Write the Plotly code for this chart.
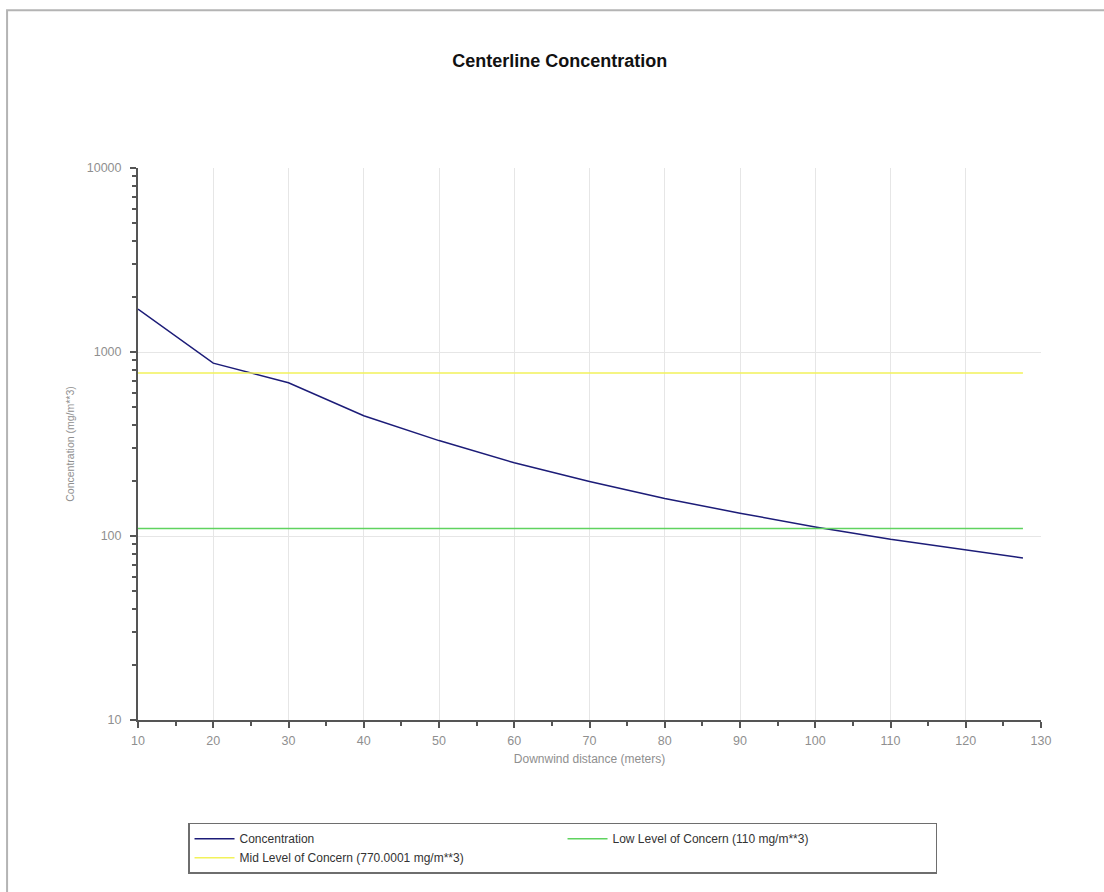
import plotly.graph_objects as go

# downwind distance (m) and centerline concentration (mg/m**3)
distance = [10, 20, 30, 40, 50, 60, 70, 80, 90, 100, 110, 120, 127.6]
concentration = [1710, 870, 680, 450, 330, 250, 198, 160, 133, 112, 96, 84, 76]

low_level = 110
mid_level = 770.0001

trace_conc = go.Scatter(
    x=distance,
    y=concentration,
    mode='lines',
    name='Concentration',
    line=dict(color='#1c1c78', width=1.5),
)
trace_low = go.Scatter(
    x=distance,
    y=[low_level] * len(distance),
    mode='lines',
    name='Low Level of Concern (110 mg/m**3)',
    line=dict(color='#5fd35f', width=1.5),
)
trace_mid = go.Scatter(
    x=distance,
    y=[mid_level] * len(distance),
    mode='lines',
    name='Mid Level of Concern (770.0001 mg/m**3)',
    line=dict(color='#f2f25a', width=1.5),
)

tick_font = dict(family='Liberation Sans, Arial', size=12.5, color='#8f8f8f')

layout = go.Layout(
    width=1104,
    height=892,
    paper_bgcolor='white',
    plot_bgcolor='white',
    margin=dict(l=138, r=63, t=168, b=172),
    title=dict(
        text='<b>Centerline Concentration</b>',
        x=0.507,
        xanchor='center',
        y=0.932,
        yanchor='middle',
        font=dict(family='Liberation Sans, Arial', size=18, color='#111111'),
    ),
    xaxis=dict(
        range=[10, 130],
        dtick=10,
        tick0=10,
        showgrid=True,
        gridcolor='#e6e6e6',
        gridwidth=1,
        zeroline=False,
        showline=True,
        linecolor='#555555',
        linewidth=2,
        ticks='outside',
        ticklen=6,
        tickwidth=2,
        tickcolor='#555555',
        minor=dict(dtick=5, tick0=10, ticks='outside', ticklen=4,
                   tickwidth=1.5, tickcolor='#555555', showgrid=False),
        tickfont=tick_font,
        ticklabelstandoff=2,
        title=dict(text='Downwind distance (meters)',
                   font=dict(family='Liberation Sans, Arial', size=12, color='#8f8f8f'),
                   standoff=8),
    ),
    yaxis=dict(
        type='log',
        range=[1, 4],
        dtick=1,
        showgrid=True,
        gridcolor='#e6e6e6',
        gridwidth=1,
        zeroline=False,
        showline=True,
        linecolor='#555555',
        linewidth=2,
        ticks='outside',
        ticklen=6,
        tickwidth=2,
        tickcolor='#555555',
        minor=dict(dtick='D1', ticks='outside', ticklen=4,
                   tickwidth=1.5, tickcolor='#555555', showgrid=False),
        tickfont=tick_font,
        tickformat='d',
        ticklabelstandoff=6,
        title=dict(text='Concentration (mg/m**3)',
                   font=dict(family='Liberation Sans, Arial', size=10.5, color='#8f8f8f'),
                   standoff=10),
    ),
    legend=dict(
        orientation='h',
        x=0.0554,
        xanchor='left',
        y=-0.186,
        yanchor='top',
        entrywidth=318,
        traceorder='normal',
        bordercolor='#6e6e6e',
        borderwidth=1.5,
        bgcolor='white',
        font=dict(family='Liberation Sans, Arial', size=12, color='#333333'),
        tracegroupgap=0,
        itemwidth=40,
    ),
    shapes=[
        dict(type='rect', xref='paper', yref='paper',
             x0=-0.145, x1=2, y0=-2, y1=1.286,
             line=dict(color='#b4b4b4', width=2), layer='below'),
    ],
    showlegend=True,
)

fig = go.Figure(data=[trace_conc, trace_low, trace_mid], layout=layout)
fig.write_html('out.html', config={'displayModeBar': False},
               post_script="document.body.style.margin='0';")
